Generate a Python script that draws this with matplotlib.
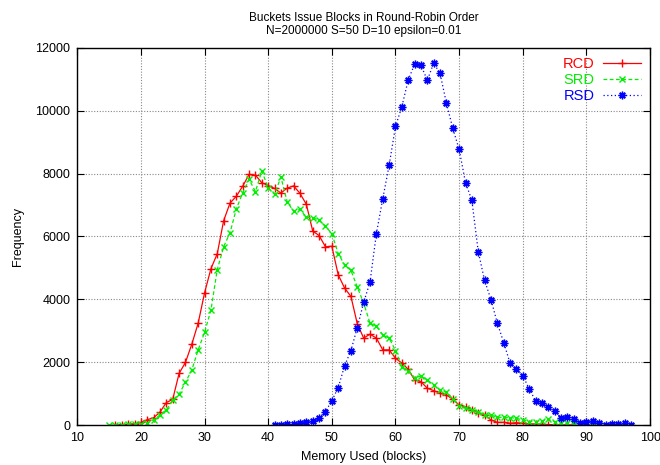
import matplotlib
matplotlib.use('Agg')
from matplotlib import pyplot as plt
import numpy as np

plt.rcParams['font.family'] = ['Liberation Sans', 'DejaVu Sans']

# memory used (blocks) and frequency for each strategy
rcd_x = list(range(16, 89))
rcd_y = [5, 10, 20, 40, 80, 170, 230, 410, 715, 815, 1640, 1990, 2570, 3240, 4200,
         4970, 5450, 6500, 7060, 7280, 7600, 7975, 7950, 7710, 7620, 7530, 7380, 7540, 7610, 7370,
         7020, 6170, 6030, 5670, 5690, 4780, 4360, 4090, 3220, 2765,
         2890, 2765, 2390, 2390, 2125, 1970, 1775, 1435, 1380, 1170,
         1095, 1010, 955, 820, 640, 575, 490, 390, 320, 160,
         85, 85, 55, 75, 55, 40, 30, 20, 15, 10, 5, 5, 0]

srd_x = list(range(15, 93))
srd_y = [0, 5, 10, 20, 30, 40, 60, 160, 320, 480, 800, 980, 1360, 1750, 2390, 2945,
         3650, 4945, 5670, 6115, 6880, 7390, 7815, 7430, 8080, 7550, 7340, 7890, 7090, 6805,
         6860, 6615, 6590, 6520, 6325, 6090, 5455, 5100, 4920, 4390,
         3880, 3240, 3140, 2870, 2765, 2370, 1860, 1730, 1490, 1565,
         1435, 1275, 1115, 1040, 820, 600, 530, 480, 415, 320,
         320, 245, 245, 235, 215, 160, 105, 105, 130, 180,
         105, 50, 50, 50, 30, 30, 20, 0]

rsd_x = list(range(41, 98))
rsd_y = [0, 5, 20, 20, 55, 85, 140, 235, 425, 775, 1190, 1880, 2370, 3100, 3900,
         4550, 6090, 7200, 8260, 9500, 10130, 10980, 11480, 11450, 10970,
         11515, 11190, 10240, 9440, 8770, 7710, 7150, 5520, 4600, 3990,
         3240, 2625, 1970, 1775, 1575, 1150, 775, 690, 585, 445,
         235, 265, 180, 75, 105, 135, 75, 0, 20, 20, 55, 0]

fig = plt.figure(figsize=(6.6, 4.65), dpi=100)
ax = fig.add_axes([0.117, 0.086, 0.868, 0.811])

ax.plot(rcd_x, rcd_y, color='#ff0000', linestyle='-', linewidth=0.9,
        marker='+', markersize=6, markeredgewidth=1, label='RCD')
ax.plot(srd_x, srd_y, color='#00ee00', linestyle=(0, (3, 2)), linewidth=0.9,
        marker='x', markersize=5, markeredgewidth=1, label='SRD')
ax.plot(rsd_x, rsd_y, color='#0000ff', linestyle=(0, (1, 2)), linewidth=0.9,
        marker=(8, 2, 0), markersize=5.5, markeredgewidth=1, label='RSD')

ax.set_xlim(10, 100)
ax.set_ylim(0, 12000)
ax.set_xticks(np.arange(10, 101, 10))
ax.set_yticks(np.arange(0, 12001, 2000))
ax.tick_params(direction='in', top=True, right=True, labelsize=9, length=5, pad=5)
ax.grid(True, color='#888888', linestyle=(0, (1, 1.5)), linewidth=0.8)
for s in ax.spines.values():
    s.set_linewidth(1.0)

ax.set_xlabel('Memory Used (blocks)', fontsize=9, labelpad=5)
ax.set_ylabel('Frequency', fontsize=9, labelpad=8)
ax.set_title('Buckets Issue Blocks in Round-Robin Order\nN=2000000 S=50 D=10 epsilon=0.01',
             fontsize=8.5, pad=10, linespacing=1.1)

leg = ax.legend(loc='upper right', frameon=False, markerfirst=False,
                fontsize=10.5, handlelength=2.6, handletextpad=0.6,
                labelspacing=0.15, borderaxespad=0.4, borderpad=0.2,
                labelcolor='linecolor')

fig.savefig('out.png', dpi=100)
